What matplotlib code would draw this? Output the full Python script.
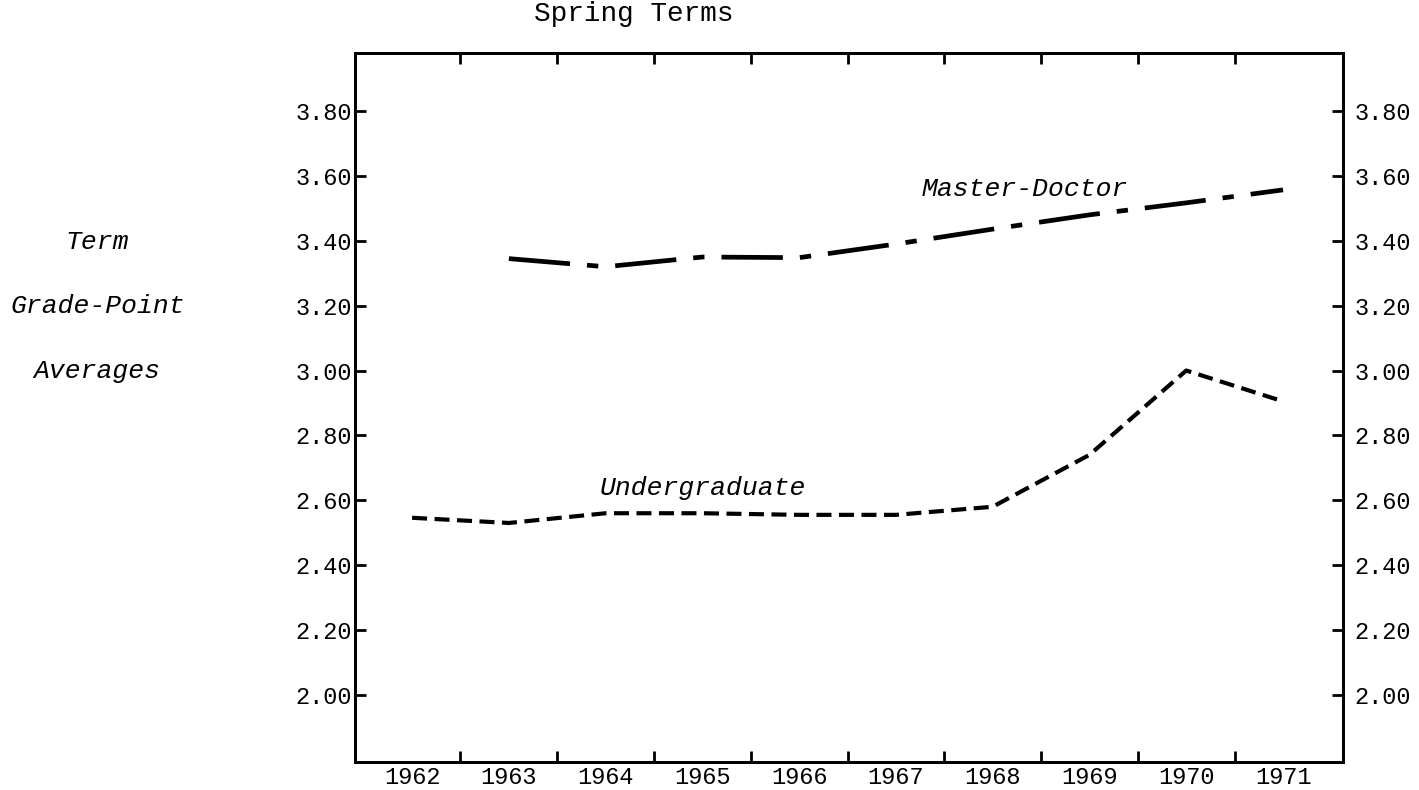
import numpy as np
import matplotlib
matplotlib.use("Agg")
import matplotlib.pyplot as plt
from matplotlib.ticker import FixedLocator, NullFormatter

# Spring term grade-point averages
years = [1962, 1963, 1964, 1965, 1966, 1967, 1968, 1969, 1970, 1971]
master_years = [1963, 1964, 1965, 1966, 1967, 1968, 1969, 1970, 1971]
master_gpa = [3.345, 3.32, 3.35, 3.348, 3.39, 3.436, 3.48, 3.517, 3.557]
under_gpa = [2.546, 2.53, 2.56, 2.56, 2.555, 2.555, 2.58, 2.74, 3.00, 2.905]
y_ticks = [2.00, 2.20, 2.40, 2.60, 2.80, 3.00, 3.20, 3.40, 3.60, 3.80]
y_labels = ["%.2f" % v for v in y_ticks]

font = "Liberation Mono"

fig = plt.figure(figsize=(14.19, 7.90), dpi=100)
ax = fig.add_axes([355/1419, 1 - 762/790, (1343-355)/1419, (762-53)/790])

ax.plot(master_years, master_gpa, color="black", lw=3.4,
        dashes=(13, 3.6, 2.4, 3.6))
ax.plot(years, under_gpa, color="black", lw=3.0, dashes=(3.6, 1.8))

ax.set_xlim(1961.41, 1971.62)
ax.set_ylim(1.793, 3.979)

# ticks between the years, labels under the years
ax.xaxis.set_major_locator(FixedLocator(np.array(years[:-1]) + 0.5))
ax.xaxis.set_major_formatter(NullFormatter())
ax.xaxis.set_minor_locator(FixedLocator(years))
ax.set_xticklabels([str(y) for y in years], minor=True, family=font)
ax.tick_params(axis="x", which="major", direction="in", length=8, width=2,
               top=True, bottom=True)
ax.tick_params(axis="x", which="minor", length=0, pad=3, labelsize=17,
               top=False)

ax.set_yticks(y_ticks)
ax.set_yticklabels(y_labels, family=font)
ax.tick_params(axis="y", direction="in", length=8, width=2, labelsize=17,
               pad=2, right=False)

# right-hand scale
ax2 = ax.twinx()
ax2.set_ylim(ax.get_ylim())
ax2.set_yticks(y_ticks)
ax2.set_yticklabels(y_labels, family=font)
ax2.tick_params(axis="y", direction="in", length=8, width=2, labelsize=17,
                pad=8)

for a in (ax, ax2):
    for s in a.spines.values():
        s.set_linewidth(2)

ax.text(1963.94, 2.638, "Undergraduate", fontsize=19, style="italic",
        family=font, va="center", ha="left")
ax.text(1967.27, 3.56, "Master-Doctor", fontsize=19, style="italic",
        family=font, va="center", ha="left")

fig.text(634/1419, 1 - 14/790, "Spring Terms", fontsize=20, family=font,
         ha="center", va="center")
fig.text(97/1419, 1 - 242/790, "Term", fontsize=19, style="italic",
         family=font, ha="center", va="center")
fig.text(98/1419, 1 - 306/790, "Grade-Point", fontsize=19, style="italic",
         family=font, ha="center", va="center")
fig.text(97/1419, 1 - 371/790, "Averages", fontsize=19, style="italic",
         family=font, ha="center", va="center")

fig.savefig("out.png", dpi=100, facecolor="white")
